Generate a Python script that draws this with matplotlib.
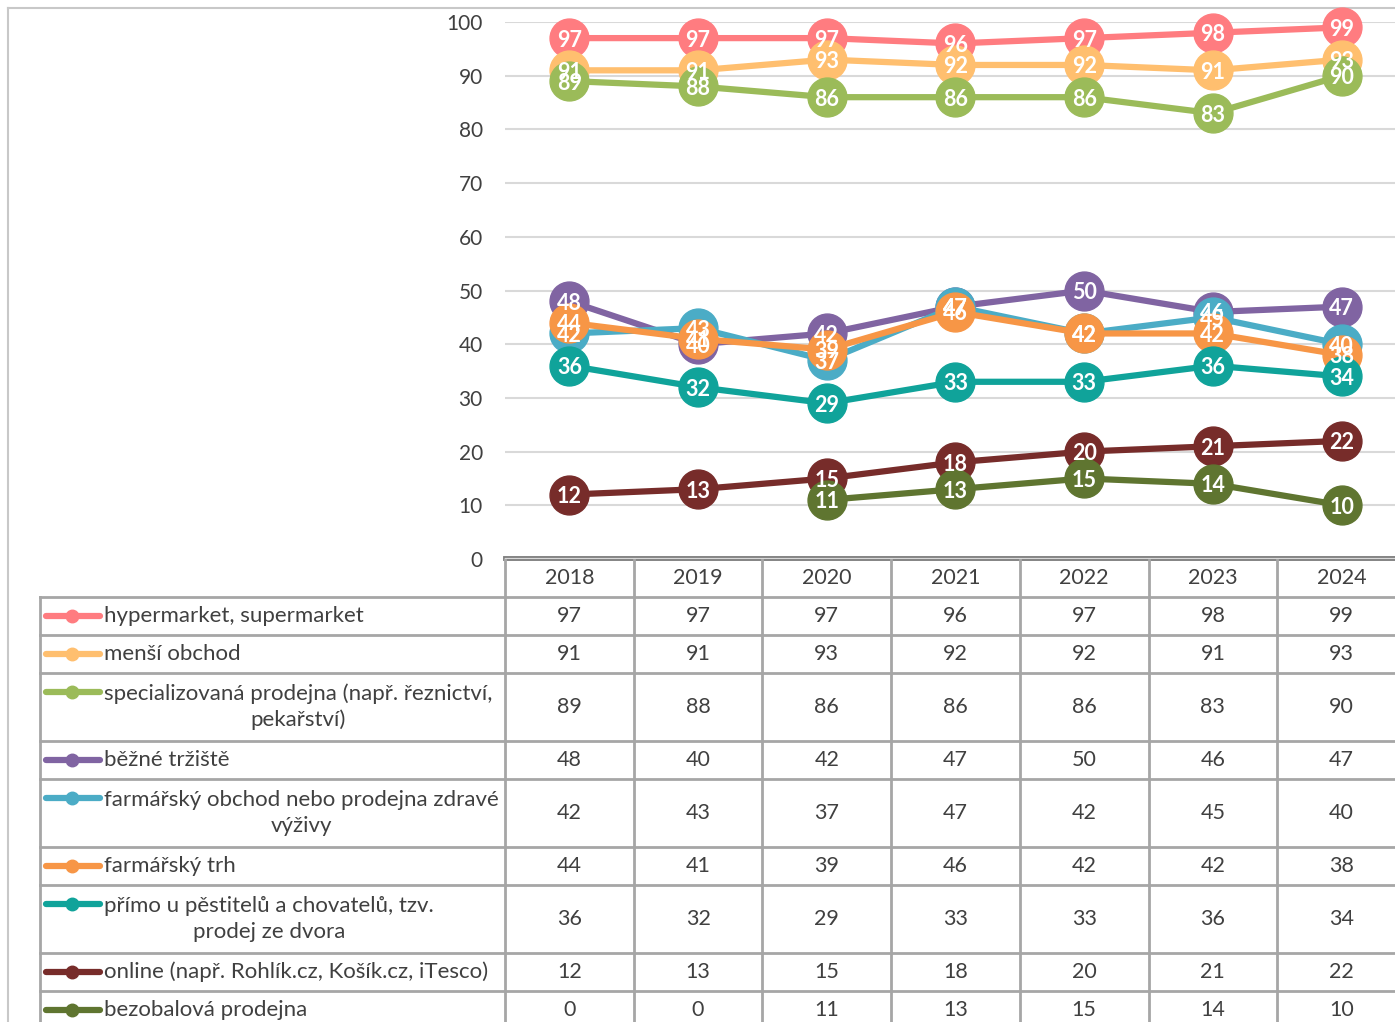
import numpy as np
import matplotlib.pyplot as plt

plt.rcParams['font.family'] = ['Lato', 'DejaVu Sans']

# data
years = ['2018', '2019', '2020', '2021', '2022', '2023', '2024']

labels = [
    'hypermarket, supermarket',
    'menší obchod',
    'specializovaná prodejna (např. řeznictví,\npekařství)',
    'běžné tržiště',
    'farmářský obchod nebo prodejna zdravé\nvýživy',
    'farmářský trh',
    'přímo u pěstitelů a chovatelů, tzv.\nprodej ze dvora',
    'online (např. Rohlík.cz, Košík.cz, iTesco)',
    'bezobalová prodejna',
]

hypermarket = [97, 97, 97, 96, 97, 98, 99]
mensi_obchod = [91, 91, 93, 92, 92, 91, 93]
specializovana = [89, 88, 86, 86, 86, 83, 90]
bezne_trziste = [48, 40, 42, 47, 50, 46, 47]
farmarsky_obchod = [42, 43, 37, 47, 42, 45, 40]
farmarsky_trh = [44, 41, 39, 46, 42, 42, 38]
primo = [36, 32, 29, 33, 33, 36, 34]
online = [12, 13, 15, 18, 20, 21, 22]
bezobalova = [np.nan, np.nan, 11, 13, 15, 14, 10]

series = [hypermarket, mensi_obchod, specializovana, bezne_trziste,
          farmarsky_obchod, farmarsky_trh, primo, online, bezobalova]
colors = ['#FF7C80', '#FFBF6F', '#9BBB59', '#8064A2', '#4BACC6',
          '#F79646', '#10A39A', '#772C2A', '#5F7530']

W, H = 1395, 1022
fig = plt.figure(figsize=(W / 100, H / 100), dpi=100)

# background axes in pixel coordinates for the data table
bg = fig.add_axes([0, 0, 1, 1], zorder=0)
bg.set_xlim(0, W)
bg.set_ylim(H, 0)
bg.axis('off')

grid_c = '#A6A6A6'
text_c = '#404040'

# outer chart border
bg.plot([8, 8], [H, 8], color='#C8C8C8', lw=1.5)
bg.plot([8, W], [8, 8], color='#C8C8C8', lw=1.5)

# chart axes
x0, cw = 505, 128.7
top, bottom = 22, 559
ax = fig.add_axes([x0 / W, 1 - bottom / H, 7 * cw / W, (bottom - top) / H], zorder=1)
ax.patch.set_alpha(0)
xs = np.arange(len(years))
for vals, c in zip(series, colors):
    ax.plot(xs, vals, color=c, lw=4.5, marker='o', markersize=28,
            clip_on=False, zorder=3)
for vals in series:
    for x, v in zip(xs, vals):
        if not np.isnan(v):
            ax.text(x, v, str(int(v)), ha='center', va='center_baseline',
                    color='white', fontsize=15.5, fontweight='bold',
                    zorder=10, clip_on=False)
ax.set_xlim(-0.5, 6.5)
ax.set_ylim(0, 100)
ax.set_yticks(range(0, 101, 10))
ax.set_xticks([])
ax.tick_params(axis='y', length=0, pad=16, labelsize=15, labelcolor=text_c)
ax.yaxis.grid(True, color='#D9D9D9', lw=1.5)
ax.set_axisbelow(True)
for s in ax.spines.values():
    s.set_visible(False)

# data table
col_x = [x0 + i * cw for i in range(len(years) + 1)]
right = col_x[-1]
row_edges = [597]
for lab in labels:
    row_edges.append(row_edges[-1] + (68 if '\n' in lab else 38))

bg.plot([x0, right], [bottom - 1, bottom - 1], color='#7F7F7F', lw=3.5)
bg.plot([x0, right], [bottom - 1, bottom - 1], color='white', lw=0.8)
for y in row_edges:
    bg.plot([40, right], [y, y], color=grid_c, lw=2)
bg.plot([40, 40], [597, H], color=grid_c, lw=2)
for x in col_x:
    bg.plot([x, x], [bottom, H], color=grid_c, lw=2)

for i, yr in enumerate(years):
    bg.text((col_x[i] + col_x[i + 1]) / 2, 578, yr, ha='center', va='center',
            fontsize=15.5, color=text_c)

for r, (lab, vals, c) in enumerate(zip(labels, series, colors)):
    yc = (row_edges[r] + row_edges[r + 1]) / 2
    two = '\n' in lab
    ky = yc - 15 if two else yc
    bg.plot([46, 100], [ky, ky], color=c, lw=4.5, solid_capstyle='round')
    bg.plot([72], [ky], marker='o', color=c, markersize=9)
    bg.text(104, yc, lab, ha='left', va='center', multialignment='center',
            fontsize=16, color=text_c, linespacing=1.35)
    for i, v in enumerate(vals):
        s = '0' if np.isnan(v) else str(int(v))
        bg.text((col_x[i] + col_x[i + 1]) / 2, yc, s, ha='center', va='center',
                fontsize=15.5, color=text_c)

fig.savefig('out.png', dpi=100)
